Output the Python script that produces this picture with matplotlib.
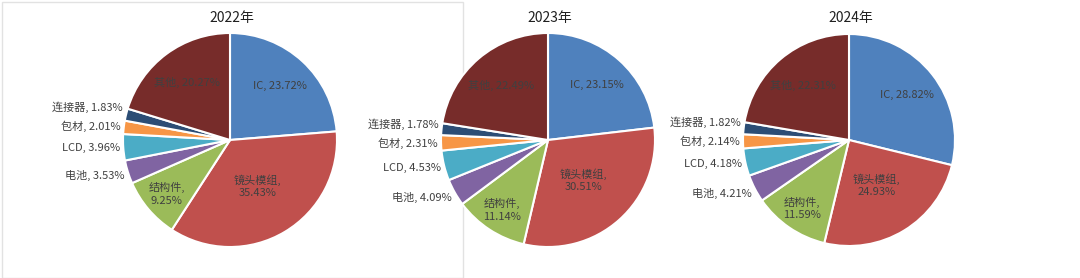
import matplotlib
matplotlib.use('Agg')
import matplotlib.pyplot as plt
import matplotlib.patches as patches
import numpy as np

plt.rcParams['font.family'] = ['Noto Sans CJK SC', 'DejaVu Sans']

# data
years = ['2022年', '2023年', '2024年']
categories = ['IC', '镜头模组', '结构件', '电池', 'LCD', '包材', '连接器', '其他']
share_2022 = [23.72, 35.43, 9.25, 3.53, 3.96, 2.01, 1.83, 20.27]
share_2023 = [23.15, 30.51, 11.14, 4.09, 4.53, 2.31, 1.78, 22.49]
share_2024 = [28.82, 24.93, 11.59, 4.21, 4.18, 2.14, 1.82, 22.31]
shares = [share_2022, share_2023, share_2024]

colors = ['#4F81BD', '#C0504D', '#9BBB59', '#8064A2', '#4BACC6',
          '#F79646', '#2C4D75', '#772C2A']

# layout (pixels, y from top)
centers = [(230, 140), (548, 140), (849, 140)]
radii = [107, 107, 106]
title_y = 18
inside = {'IC': 0.69, '镜头模组': 0.5, '结构件': 0.78, '其他': 0.67}
two_line = ['镜头模组', '结构件']
H = 278

fig = plt.figure(figsize=(10.8, 2.78), dpi=100)
ax = fig.add_axes([0, 0, 1, 1])

for k in range(3):
    vals = shares[k]
    cx, cy = centers[k]
    r = radii[k]
    ax.pie(vals, colors=colors, startangle=90, counterclock=False,
           center=(cx, H - cy), radius=r,
           wedgeprops=dict(edgecolor='white', linewidth=1.5, zorder=2))
    ax.text(cx + 2, H - title_y, years[k], ha='center', va='center',
            fontsize=10, color='#202020')

    cum = np.cumsum([0] + vals[:-1])
    outs = []
    for i, cat in enumerate(categories):
        mid = cum[i] + vals[i] / 2
        th = np.deg2rad(90 - mid / 100 * 360)
        if cat in inside:
            f = inside[cat]
            x = cx + f * r * np.cos(th)
            y = cy - f * r * np.sin(th)
            sep = ',\n' if cat in two_line else ', '
            ax.text(x, H - y, f'{cat}{sep}{vals[i]:.2f}%', ha='center',
                    va='center', fontsize=8, color='#404040', linespacing=1.3)
        else:
            x = cx + r * np.cos(th) - 3
            y = cy - r * np.sin(th) * 1.1
            outs.append([x, y, f'{cat}, {vals[i]:.2f}%'])
    # keep outside labels apart, bottom to top
    for j in range(1, len(outs)):
        if outs[j - 1][1] - outs[j][1] < 19:
            outs[j][1] = outs[j - 1][1] - 19
    for x, y, s in outs:
        ax.text(x, H - y, s, ha='right', va='center', fontsize=8,
                color='#404040')

# light frame around first chart, behind the pies
ax.add_patch(patches.Rectangle((1.5, 0), 461, H - 2, fill=False,
                               edgecolor='#e2e2e2', linewidth=1, zorder=0))

ax.set_xlim(0, 1080)
ax.set_ylim(0, H)
ax.set_aspect('equal')
ax.axis('off')

fig.savefig('out.png', dpi=100)
